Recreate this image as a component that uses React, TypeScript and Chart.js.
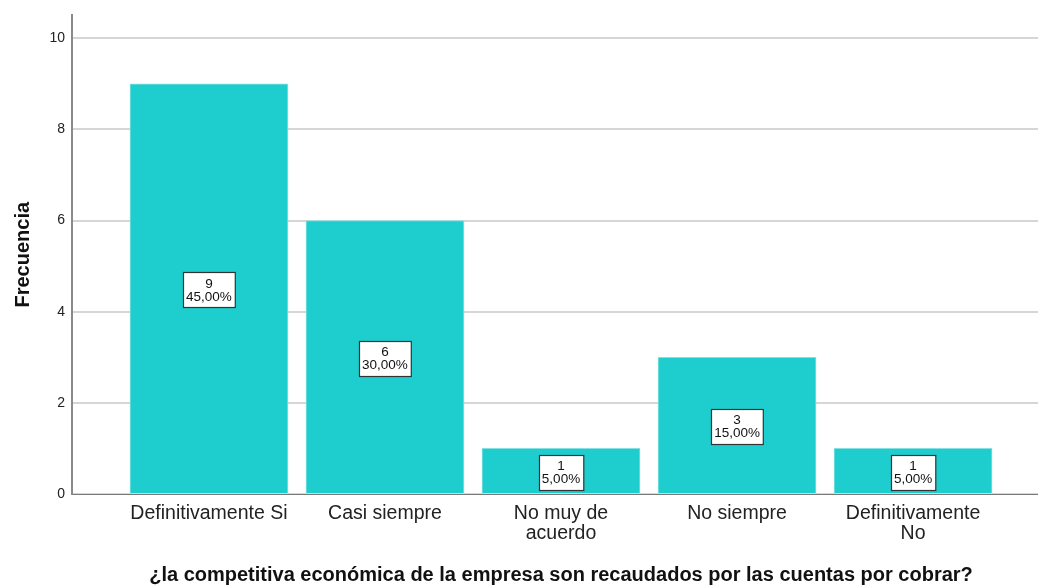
import React, { useEffect, useRef } from "react";
import { Chart, registerables } from "chart.js";

Chart.register(...registerables);

const categories: (string | string[])[] = [
  "Definitivamente Si",
  "Casi siempre",
  ["No muy de", "acuerdo"],
  "No siempre",
  ["Definitivamente", "No"],
];
const counts: number[] = [9, 6, 1, 3, 1];
const percents: string[] = ["45,00%", "30,00%", "5,00%", "15,00%", "5,00%"];
const yTicks: number[] = [0, 2, 4, 6, 8, 10];

const xTitle = "¿la competitiva económica de la empresa son recaudados por las cuentas por cobrar?";
const yTitle = "Frecuencia";

const FONT = "'Liberation Sans', Arial, Helvetica, sans-serif";

const boxLabels = {
  id: "boxLabels",
  afterDatasetsDraw(chart: any) {
    const ctx = chart.ctx;
    const meta = chart.getDatasetMeta(0);
    ctx.save();
    ctx.font = `13.5px ${FONT}`;
    ctx.textAlign = "center";
    ctx.textBaseline = "middle";
    meta.data.forEach((bar: any, i: number) => {
      const cx = bar.x;
      const cy = (bar.y + bar.base) / 2 + 1.5;
      const l1 = String(counts[i]);
      const l2 = percents[i];
      const w = Math.max(ctx.measureText(l1).width, ctx.measureText(l2).width) + 6;
      const h = 35;
      const x0 = Math.round(cx - w / 2) + 0.5;
      const y0 = Math.round(cy - h / 2) + 0.5;
      ctx.fillStyle = "#ffffff";
      ctx.fillRect(x0, y0, w, h);
      ctx.strokeStyle = "#333333";
      ctx.lineWidth = 1.2;
      ctx.strokeRect(x0, y0, w, h);
      ctx.fillStyle = "#111111";
      ctx.fillText(l1, cx, cy - 6);
      ctx.fillText(l2, cx, cy + 7);
    });
    ctx.restore();
  },
};

export default function App() {
  const ref = useRef<HTMLCanvasElement | null>(null);

  useEffect(() => {
    if (!ref.current) return;
    const chart = new Chart(ref.current, {
      type: "bar",
      data: {
        datasets: [
          {
            data: counts.map((v, i) => ({ x: i, y: v })),
            backgroundColor: "#1ecdcd",
            borderColor: "#86e2e2",
            borderWidth: 1,
            barThickness: 158,
          },
        ],
      },
      options: {
        animation: false,
        responsive: false,
        maintainAspectRatio: false,
        layout: { padding: { top: 15, left: 0, right: 0, bottom: 0 } },
        plugins: {
          legend: { display: false },
          tooltip: { enabled: false },
        },
        scales: {
          x: {
            type: "linear",
            offset: false,
            min: -0.778,
            max: 4.778,
            afterBuildTicks: (axis: any) => {
              axis.ticks = categories.map((_, i) => ({ value: i }));
            },
            afterFit: (scale: any) => {
              scale.height = 92;
            },
            grid: { display: false, drawTicks: false },
            border: { display: true, color: "#7a7a7a", width: 1 },
            ticks: {
              autoSkip: false,
              maxRotation: 0,
              minRotation: 0,
              padding: 9,
              color: "#222222",
              font: { family: FONT, size: 19.5, lineHeight: 1.05 },
              callback: (value: any) => categories[value as number] ?? "",
            },
            title: {
              display: true,
              text: xTitle,
              color: "#111111",
              font: { family: FONT, size: 20, weight: "bold", lineHeight: 1.2 },
              padding: { top: 0, bottom: -1 },
            },
          },
          y: {
            min: 0,
            max: 10.5,
            afterBuildTicks: (axis: any) => {
              axis.ticks = yTicks.map((v) => ({ value: v }));
            },
            afterFit: (scale: any) => {
              scale.width = 72;
            },
            grid: { color: "#d6d6d6", lineWidth: 2, drawTicks: false },
            border: { display: true, color: "#8a8a8a", width: 2 },
            ticks: {
              padding: 7,
              color: "#222222",
              font: { family: FONT, size: 14 },
            },
            title: {
              display: true,
              text: yTitle,
              color: "#111111",
              font: { family: FONT, size: 20, weight: "bold", lineHeight: 1.2 },
              padding: { top: 11, bottom: 0 },
            },
          },
        },
      },
      plugins: [boxLabels],
    });
    return () => chart.destroy();
  }, []);

  return (
    <div
      style={{
        position: "absolute",
        left: 0,
        top: 0,
        width: 1038,
        height: 586,
        overflow: "hidden",
        background: "#ffffff",
      }}
    >
      <canvas ref={ref} width={1050} height={586} style={{ display: "block" }} />
    </div>
  );
}
